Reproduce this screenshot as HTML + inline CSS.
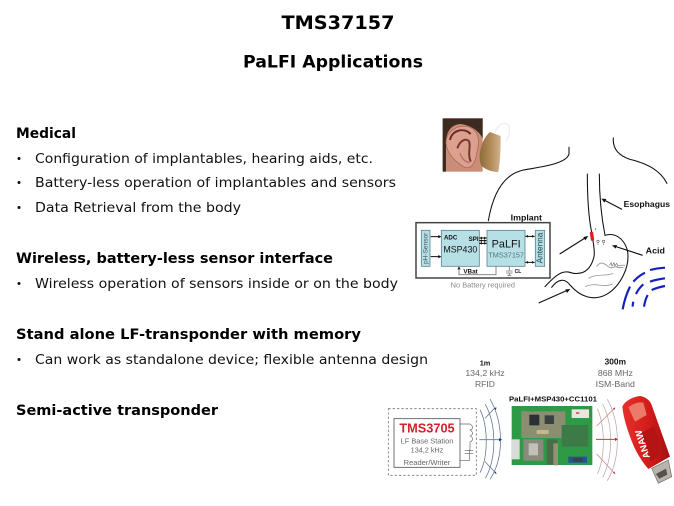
<!DOCTYPE html>
<html><head><meta charset="utf-8"><style>
html,body{margin:0;padding:0;background:#fff;width:674px;height:506px;overflow:hidden}
svg{display:block}
.v{font-family:"DejaVu Sans",sans-serif;fill:#111}
.b{font-weight:bold;fill:#000}
.a{font-family:"Liberation Sans",sans-serif}
</style></head><body>
<svg width="674" height="506" viewBox="0 0 674 506" xmlns="http://www.w3.org/2000/svg">
<defs>
<linearGradient id="usb" x1="0" y1="0" x2="1" y2="0"><stop offset="0" stop-color="#e8302c"/><stop offset=".6" stop-color="#d01a18"/><stop offset="1" stop-color="#a01010"/></linearGradient>
<linearGradient id="aid" x1="0" y1="0" x2="1" y2="0"><stop offset="0" stop-color="#8e6c3a"/><stop offset=".55" stop-color="#b58c5c"/><stop offset="1" stop-color="#d0b48c"/></linearGradient>
</defs>
<text class="v b" x="338" y="29" font-size="19" text-anchor="middle" textLength="113" lengthAdjust="spacingAndGlyphs">TMS37157</text>
<text class="v b" x="333" y="67.500" font-size="17" text-anchor="middle" textLength="180" lengthAdjust="spacingAndGlyphs">PaLFI Applications</text>

<g font-size="14">
<text class="v b" x="16" y="138" textLength="60" lengthAdjust="spacingAndGlyphs">Medical</text>
<text class="v b" x="16" y="263" textLength="317" lengthAdjust="spacingAndGlyphs">Wireless, battery-less sensor interface</text>
<text class="v b" x="16" y="339" textLength="345" lengthAdjust="spacingAndGlyphs">Stand alone LF-transponder with memory</text>
<text class="v b" x="16" y="415" textLength="202" lengthAdjust="spacingAndGlyphs">Semi-active transponder</text>
</g>
<g font-size="13.500">
<text class="v" x="35" y="163" textLength="338" lengthAdjust="spacingAndGlyphs">Configuration of implantables, hearing aids, etc.</text>
<text class="v" x="35" y="187" textLength="361" lengthAdjust="spacingAndGlyphs">Battery-less operation of implantables and sensors</text>
<text class="v" x="35" y="212" textLength="206" lengthAdjust="spacingAndGlyphs">Data Retrieval from the body</text>
<text class="v" x="35" y="288" textLength="363" lengthAdjust="spacingAndGlyphs">Wireless operation of sensors inside or on the body</text>
<text class="v" x="35" y="364" textLength="393" lengthAdjust="spacingAndGlyphs">Can work as standalone device; flexible antenna design</text>
</g>
<g fill="#111">
<circle cx="19" cy="158.500" r="1.500"/><circle cx="19" cy="182.500" r="1.500"/><circle cx="19" cy="207.500" r="1.500"/><circle cx="19" cy="283.500" r="1.500"/><circle cx="19" cy="359.500" r="1.500"/>
</g>

<!-- upper figure -->
<g transform="translate(410,110) scale(.33333)">
<!-- ear photo -->
<rect x="98" y="25" width="120" height="160" fill="#c98d78"/>
<path d="M98 25H218V85C205 60 180 45 150 42C125 45 112 60 108 90V185H98Z" fill="#3d2a20"/>
<path d="M108 100C108 60 150 40 180 52C210 65 208 100 200 130C195 165 180 180 160 170C130 150 112 130 108 100Z" fill="#dca08f" stroke="#a9604f" stroke-width="2"/>
<path d="M120 90C125 62 160 50 182 72" fill="none" stroke="#6f2a28" stroke-width="6"/>
<path d="M142 115C150 90 170 82 178 96C182 115 172 130 182 155" fill="none" stroke="#7c3531" stroke-width="6"/>
<path d="M150 130C155 145 165 155 178 158" fill="none" stroke="#b66a5c" stroke-width="4"/>
<path d="M240 66L272 78C272 120 270 160 265 186C245 186 225 178 213 166C208 150 208 135 210 126C215 100 225 78 240 66Z" fill="url(#aid)"/>
<path d="M255 70C262 45 280 32 295 45C302 60 298 80 288 92" fill="none" stroke="#ecebe6" stroke-width="3"/>

<!-- body outline -->
<g fill="none" stroke="#111" stroke-width="3.200" stroke-linecap="round">
<path d="M477 112V132C470 160 400 170 340 180C285 192 250 245 235 332"/>
<path d="M610 84C608 110 620 135 660 148C710 160 750 180 771 220"/>
<path d="M532 192C532 250 534 310 544 362C548 392 556 420 552 440C540 490 510 492 490 490C465 482 450 480 405 530"/>
<path d="M568 192C568 260 574 320 585 376C610 368 640 380 652 420C662 470 630 530 590 553C550 575 510 560 480 525C465 505 445 505 425 532"/>
</g>
<rect x="541" y="366" width="10" height="26" fill="#e01b24" transform="rotate(-8 545 379)"/>
<g fill="none" stroke="#555" stroke-width="1.800"><circle cx="564" cy="394" r="3.500"/><circle cx="581" cy="394" r="3.500"/><path d="M556 360l2-6M564 400v5M581 400v5"/></g>
<g fill="none" stroke="#999" stroke-width="2.500">
<path d="M560 470C572 450 585 462 598 472C612 478 620 462 645 466"/>
<path d="M535 505C560 490 585 500 610 490"/>
<path d="M525 530C555 515 580 535 608 522"/>
</g>
<path d="M598 466l6-8 2 10 6-10 2 10 6-8 4 8M620 472h20" fill="none" stroke="#666" stroke-width="1.800"/>
<!-- pointers -->
<g stroke="#111" stroke-width="3.500" fill="#111">
<path d="M636 298L580 269" fill="none"/><path d="M574 266l15 1-6 11z" stroke="none"/>
<path d="M698 436L612 408" fill="none"/><path d="M606 406l15-1-4 11z" stroke="none"/>
<path d="M449 432L528 382" fill="none"/><path d="M535 378l-9 13-6-10z" stroke="none"/>
<path d="M386 579L474 540" fill="none"/><path d="M481 537l-10 12-5-11z" stroke="none"/>
</g>
<text class="a" x="641" y="291" font-size="25.500" font-weight="bold" fill="#111" textLength="139" lengthAdjust="spacingAndGlyphs">Esophagus</text>
<text class="a" x="707" y="431" font-size="26" font-weight="bold" fill="#111" textLength="58" lengthAdjust="spacingAndGlyphs">Acid</text>
<!-- waves -->
<g fill="none" stroke="#1320c0" stroke-width="6.500">
<path d="M765 473Q742 474 720 480M705 488Q685 498 670 515M660 530Q645 560 638 598"/>
<path d="M765 505Q740 508 720 515M700 523Q686 535 678 552M670 575Q668 582 668 590"/>
<path d="M765 528Q743 532 725 540M713 555Q705 570 702 590"/>
</g>
<!-- implant box -->
<rect x="18" y="338" width="402" height="166" fill="#fff" stroke="#444" stroke-width="4.500"/>
<text class="a" x="302" y="331" font-size="26" font-weight="bold" fill="#111" textLength="94" lengthAdjust="spacingAndGlyphs">Implant</text>
<g fill="#b6dfe6" stroke="#5f8790" stroke-width="2.500">
<rect x="34" y="361" width="26" height="108"/>
<rect x="94" y="361" width="114" height="108"/>
<rect x="231" y="361" width="114" height="108"/>
<rect x="376" y="361" width="28" height="108"/>
</g>
<text class="a" transform="translate(53,462) rotate(-90)" font-size="19" fill="#456" textLength="94" lengthAdjust="spacingAndGlyphs">pH-Sensor</text>
<text class="a" transform="translate(398,460) rotate(-90)" font-size="24.500" fill="#1c3940" textLength="92" lengthAdjust="spacingAndGlyphs">Antenna</text>
<text class="a" x="102" y="388" font-size="18" font-weight="bold" fill="#111" textLength="40" lengthAdjust="spacingAndGlyphs">ADC</text>
<text class="a" x="176" y="393" font-size="18" font-weight="bold" fill="#111" textLength="30" lengthAdjust="spacingAndGlyphs">SPI</text>
<text class="a" x="100" y="428" font-size="26.500" fill="#111" textLength="102" lengthAdjust="spacingAndGlyphs">MSP430</text>
<text class="a" x="245" y="413" font-size="33" fill="#111" textLength="87" lengthAdjust="spacingAndGlyphs">PaLFI</text>
<text class="a" x="235" y="443" font-size="22" fill="#4d7780" textLength="107" lengthAdjust="spacingAndGlyphs">TMS37157</text>
<text class="a" x="160" y="490" font-size="18.500" font-weight="bold" fill="#111" textLength="43" lengthAdjust="spacingAndGlyphs">VBat</text>
<text class="a" x="314" y="489" font-size="17" font-weight="bold" fill="#111" textLength="20" lengthAdjust="spacingAndGlyphs">CL</text>
<text class="a" x="122" y="532" font-size="22" fill="#8a8a8a" textLength="193" lengthAdjust="spacingAndGlyphs">No Battery required</text>
<g stroke="#111" stroke-width="3" fill="none">
<path d="M62 380H90M62 440H90M208 384H230M208 392H230M208 400H230M346 379H374M346 457H374"/>
</g>
<g fill="#111">
<path d="M94 380l-9-5v10zM94 440l-9-5v10zM230 384l-8-4v8zM230 392l-8-4v8zM230 400l-8-4v8zM208 384l8-4v8zM208 392l8-4v8zM208 400l8-4v8zM346 379l8-4v8zM374 379l-8-4v8zM346 457l8-4v8zM374 457l-8-4v8zM147 469l-5 9h10z"/>
</g>
<path d="M147 476V494H258V469" fill="none" stroke="#777" stroke-width="2.500"/>
<path d="M298 469V481M288 483H308M288 489H308M298 489V496M292 496H304" fill="none" stroke="#777" stroke-width="2.500"/>
</g>

<!-- lower figure -->
<g transform="translate(380,350) scale(.33333)">
<text class="a" x="315" y="46" font-size="22" font-weight="bold" fill="#111" text-anchor="middle">1m</text>
<text class="a" x="315" y="78" font-size="26" fill="#666" text-anchor="middle" textLength="118" lengthAdjust="spacingAndGlyphs">134,2 kHz</text>
<text class="a" x="315" y="111" font-size="26" fill="#666" text-anchor="middle" textLength="60" lengthAdjust="spacingAndGlyphs">RFID</text>
<text class="a" x="706" y="44" font-size="24" font-weight="bold" fill="#111" text-anchor="middle" textLength="64" lengthAdjust="spacingAndGlyphs">300m</text>
<text class="a" x="706" y="78" font-size="26" fill="#666" text-anchor="middle" textLength="105" lengthAdjust="spacingAndGlyphs">868 MHz</text>
<text class="a" x="706" y="111" font-size="26" fill="#666" text-anchor="middle" textLength="118" lengthAdjust="spacingAndGlyphs">ISM-Band</text>
<text class="a" x="387" y="155" font-size="23" font-weight="bold" fill="#111" textLength="264" lengthAdjust="spacingAndGlyphs">PaLFI+MSP430+CC1101</text>

<rect x="25" y="176" width="264" height="200" fill="#fff" stroke="#777" stroke-width="2.500" stroke-dasharray="7 6"/>
<rect x="42" y="206" width="198" height="146" fill="#fff" stroke="#555" stroke-width="2.500"/>
<text class="a" x="141" y="248" font-size="38" font-weight="bold" fill="#d3202c" text-anchor="middle" textLength="166" lengthAdjust="spacingAndGlyphs">TMS3705</text>
<text class="a" x="141" y="281" font-size="22" fill="#666" text-anchor="middle" textLength="158" lengthAdjust="spacingAndGlyphs">LF Base Station</text>
<text class="a" x="141" y="307" font-size="22" fill="#666" text-anchor="middle" textLength="98" lengthAdjust="spacingAndGlyphs">134,2 kHz</text>
<text class="a" x="141" y="345" font-size="22" fill="#666" text-anchor="middle" textLength="140" lengthAdjust="spacingAndGlyphs">Reader/Writer</text>
<path d="M240 222H270C280 228 280 238 270 240C280 246 280 254 270 258C280 262 280 272 270 276V300H268M268 300V310M254 302H280M254 310H280M268 310V332H240" fill="none" stroke="#666" stroke-width="2"/>

<g fill="none" stroke="#5a6d8c" stroke-width="2.200">
<path d="M300 179C325 230 325 320 300 368"/>
<path d="M316 163C350 225 350 325 316 385"/>
<path d="M330 147C372 220 372 325 330 388"/>
<path d="M346 172L315 205M346 368L315 335"/>
</g>
<path d="M298 269H362" stroke="#5a8dc8" stroke-width="3"/>
<path d="M366 269l-9-5v10zM350 172l-7 3 4 5zM350 372l-7-3 4-5z" fill="#1c3c70"/>

<g fill="none" stroke="#b7a9a9" stroke-width="2.200">
<path d="M652 176C676 230 676 320 652 372"/>
<path d="M668 162C700 225 700 320 668 382"/>
<path d="M682 148C722 220 722 325 682 392"/>
</g>
<path d="M702 176L650 228M702 368L650 312" stroke="#d87c80" stroke-width="2.200" fill="none"/>
<path d="M648 268H708" stroke="#d8343c" stroke-width="3"/>
<path d="M714 268l-9-5v10zM706 172l-7 3 4 5zM706 372l-7-3 4-5z" fill="#c4202c"/>

<!-- board -->
<rect x="395" y="168" width="242" height="177" fill="#2e9a45"/>
<rect x="424" y="184" width="132" height="80" fill="#8c8e72"/>
<rect x="448" y="194" width="30" height="32" fill="#2a3034"/>
<rect x="494" y="196" width="28" height="26" fill="#3a4140"/>
<rect x="470" y="240" width="36" height="12" fill="#c9b788"/>
<rect x="575" y="178" width="52" height="26" fill="#e8e6e0"/><rect x="588" y="186" width="10" height="6" fill="#d56a6a"/>
<rect x="395" y="268" width="24" height="60" fill="#d8dcd8"/>
<rect x="430" y="268" width="60" height="64" fill="#8a8a7c"/>
<rect x="446" y="280" width="28" height="36" fill="#c0c2b8"/>
<rect x="500" y="268" width="32" height="76" fill="#4a6c48"/>
<rect x="520" y="280" width="14" height="66" fill="#9a8f70"/>
<rect x="545" y="225" width="80" height="65" fill="#3c7a48"/>
<rect x="565" y="320" width="56" height="18" fill="#23548a"/>
<rect x="580" y="325" width="28" height="10" fill="#3a3f4a"/>

<!-- USB -->
<path d="M815 355L865 330L875 380L835 400Z" fill="#b9b5ac" stroke="#6d6a64" stroke-width="2"/>
<path d="M828 372L858 356L862 374L838 386Z" fill="#55524c"/>
<path d="M727 170C735 152 760 140 780 138C795 140 810 150 815 165L870 320L805 357C790 340 770 310 760 285C745 250 730 205 727 170Z" fill="url(#usb)"/>
<path d="M745 172C760 160 775 155 790 158L800 195L765 215Z" fill="#ec7a68"/>
<path d="M782 250L822 228L850 305L812 335Z" fill="#b51414"/>
<text class="a" transform="translate(810,322) rotate(-108)" font-size="28" font-weight="bold" fill="#fff" textLength="88" lengthAdjust="spacingAndGlyphs">ANAW</text>
</g>
</svg>
</body></html>
